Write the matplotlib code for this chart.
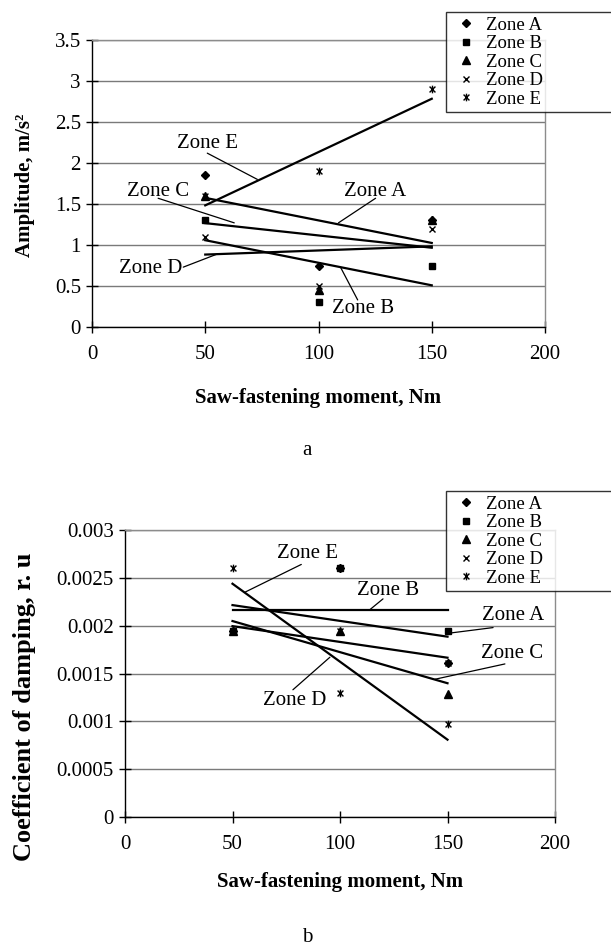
import numpy as np
import matplotlib
matplotlib.use('Agg')
import matplotlib.pyplot as plt
from matplotlib.path import Path

plt.rcParams['font.family'] = ['Liberation Serif', 'DejaVu Serif']

# ---------------- data ----------------
zones = ['Zone A', 'Zone B', 'Zone C', 'Zone D', 'Zone E']
moment = [50, 100, 150]

amp_a = [1.85, 0.75, 1.30]
amp_b = [1.30, 0.30, 0.75]
amp_c = [1.60, 0.45, 1.30]
amp_d = [1.10, 0.50, 1.20]
amp_e = [1.60, 1.90, 2.90]

damp_a = [0.00194, 0.00260, 0.00161]
damp_b = [0.00194, 0.00260, 0.00194]
damp_c = [0.00194, 0.00194, 0.00129]
damp_d = [0.00194, 0.00194, 0.00161]
damp_e = [0.00260, 0.00130, 0.00097]

x_ticks = [0, 50, 100, 150, 200]
amp_ticks = [0, 0.5, 1, 1.5, 2, 2.5, 3, 3.5]
amp_tick_labels = ['0', '0.5', '1', '1.5', '2', '2.5', '3', '3.5']
damp_ticks = [0, 0.0005, 0.001, 0.0015, 0.002, 0.0025, 0.003]
damp_tick_labels = ['0', '0.0005', '0.001', '0.0015', '0.002', '0.0025', '0.003']

# annotation layout: (label, text position, line start, line end)
amp_notes = [
    ('Zone E', (50.9, 2.24), (50.9, 2.12), (73.0, 1.80)),
    ('Zone C', (29.2, 1.65), (29.2, 1.57), (62.8, 1.27)),
    ('Zone A', (125.2, 1.65), (125.2, 1.57), (108.8, 1.27)),
    ('Zone D', (25.7, 0.71), (40.3, 0.73), (55.3, 0.89)),
    ('Zone B', (119.5, 0.23), (117.3, 0.33), (109.7, 0.73)),
]
damp_notes = [
    ('Zone E', (85.1, 0.00275), (82.0, 0.00264), (55.8, 0.00235)),
    ('Zone B', (122.3, 0.00237), (120.0, 0.00228), (113.5, 0.00216)),
    ('Zone A', (180.5, 0.00211), (171.2, 0.00198), (150.2, 0.00192)),
    ('Zone C', (180.0, 0.00171), (176.7, 0.00160), (144.2, 0.00144)),
    ('Zone D', (79.0, 0.00122), (78.1, 0.00133), (95.3, 0.00167)),
]

# star marker (x with vertical bar)
star = Path([(-1, -1), (1, 1), (-1, 1), (1, -1), (0, -1.3), (0, 1.3)],
            [Path.MOVETO, Path.LINETO, Path.MOVETO, Path.LINETO, Path.MOVETO, Path.LINETO])
markers = [('D', 4.2), ('s', 4.6), ('^', 5.2), ('x', 5.0), (star, 5.5)]

W, H = 611, 946
fig = plt.figure(figsize=(W / 100, H / 100), dpi=100)


def panel(rect, series, ticks, tick_labels, ymax, ylabel, notes, legend_box,
          ylab_pos, xlab_y, ylab_size, letter, letter_y):
    ax = fig.add_axes(rect)
    ax.set_xlim(0, 200)
    ax.set_ylim(0, ymax)
    ax.set_xticks(x_ticks)
    ax.set_xticklabels([str(t) for t in x_ticks])
    ax.set_yticks(ticks)
    ax.set_yticklabels(tick_labels)
    ax.tick_params(direction='inout', length=8, width=1, labelsize=15, pad=4, colors='black')
    ax.tick_params(axis='x', pad=9)
    ax.grid(axis='y', color='#7a7a7a', lw=1.0)
    ax.set_axisbelow(True)
    for s in ['left', 'bottom']:
        ax.spines[s].set_color('black')
        ax.spines[s].set_linewidth(1.0)
    for s in ['top', 'right']:
        ax.spines[s].set_color('#8c8c8c')
        ax.spines[s].set_linewidth(1.0)
    # linear trend lines
    xs = np.array(moment, dtype=float)
    xfit = np.array([moment[0], moment[-1]], dtype=float)
    for ys in series:
        k, b = np.polyfit(xs, np.array(ys), 1)
        ax.plot(xfit, k * xfit + b, color='black', lw=1.6, zorder=3)
    handles = []
    for name, ys, (m, ms) in zip(zones, series, markers):
        h, = ax.plot(moment, ys, linestyle='none', marker=m, ms=ms, color='black',
                     mec='black', mfc='black', mew=1.0, label=name, zorder=4, clip_on=False)
        handles.append(h)
    for label, txy, p0, p1 in notes:
        ax.text(txy[0], txy[1], label, fontsize=15, ha='center', va='center', zorder=5,
                clip_on=False)
        ax.annotate('', xy=p1, xytext=p0,
                    arrowprops=dict(arrowstyle='-', color='black', lw=0.9,
                                    shrinkA=0, shrinkB=0), annotation_clip=False)
    ax.set_xlabel('Saw-fastening moment, Nm', fontsize=15, fontweight='bold')
    ax.xaxis.label.set_va('center')
    ax.xaxis.set_label_coords(0.5, xlab_y)
    ax.set_ylabel(ylabel, fontsize=ylab_size, fontweight='bold')
    ax.yaxis.label.set_va('center')
    ax.yaxis.label.set_ha('center')
    ax.yaxis.set_label_coords(*ylab_pos)
    x0, y0, x1, y1 = legend_box
    leg = fig.legend(handles=handles, loc='upper left', mode='expand',
                     bbox_to_anchor=(x0 / W, 1 - y1 / H, (x1 - x0) / W, (y1 - y0) / H),
                     bbox_transform=fig.transFigure, prop={'size': 13.5}, frameon=True,
                     fancybox=False, edgecolor='black', borderaxespad=0,
                     handlelength=1.6, handletextpad=0.3, labelspacing=0.07,
                     borderpad=0.25)
    leg.get_frame().set_linewidth(1.0)
    fig.text(letter[1] / W, 1 - letter_y / H, letter[0], fontsize=15, ha='center', va='center')
    return ax


# top panel: axes px left 92, right 545, top 40, bottom 327
panel([92 / W, 1 - 327 / H, 453 / W, 287 / H],
      [amp_a, amp_b, amp_c, amp_d, amp_e], amp_ticks, amp_tick_labels, 3.5,
      'Amplitude, m/s\u00b2', amp_notes, (446, 12, 612, 114),
      ((25 - 92) / 453, (327 - 185) / 287), -0.247, 15, ('a', 307), 450)

# bottom panel: axes px left 125, right 555, top 530, bottom 817
panel([125 / W, 1 - 817 / H, 430 / W, 287 / H],
      [damp_a, damp_b, damp_c, damp_d, damp_e], damp_ticks, damp_tick_labels, 0.003,
      'Coefficient of damping, r. u', damp_notes, (446, 491, 612, 593),
      ((25 - 125) / 430, (817 - 707) / 287), -0.2265, 19, ('b', 307), 937)

fig.savefig('out.png', dpi=100, facecolor='white')
